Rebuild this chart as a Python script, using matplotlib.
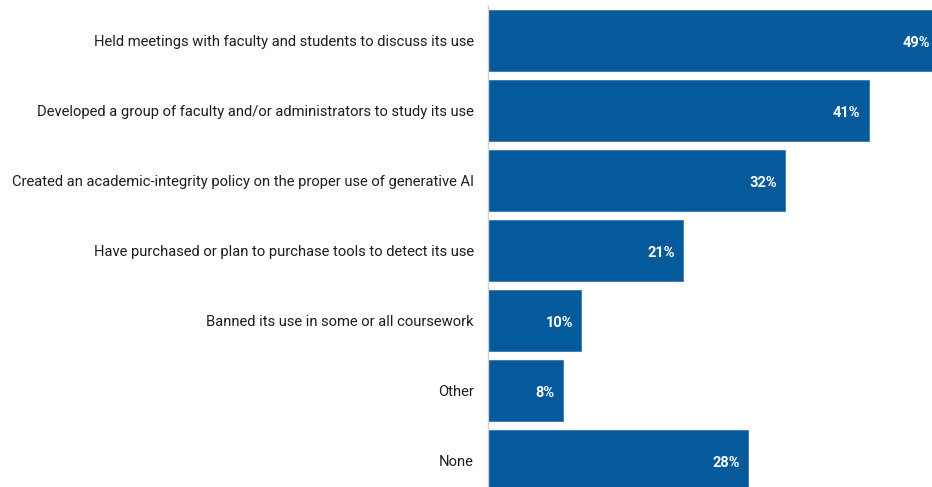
import matplotlib
matplotlib.use("Agg")
import matplotlib.pyplot as plt

categories = [
    "Held meetings with faculty and students to discuss its use",
    "Developed a group of faculty and/or administrators to study its use",
    "Created an academic-integrity policy on the proper use of generative AI",
    "Have purchased or plan to purchase tools to detect its use",
    "Banned its use in some or all coursework",
    "Other",
    "None",
]
values = [49, 41, 32, 21, 10, 8, 28]
value_labels = ["49%", "41%", "32%", "21%", "10%", "8%", "28%"]

plt.rcParams['font.family'] = ['Roboto', 'DejaVu Sans']

W, H = 932, 487
fig = plt.figure(figsize=(W / 100, H / 100), dpi=100)
left_px, top_px = 488.5, 5
ax = fig.add_axes([left_px / W, 0, 1 - left_px / W, (H - top_px) / H])

color = "#045a9b"
ys = list(range(len(categories)))
ax.barh(ys, values, height=0.87, color=color, edgecolor="#3a76ab", linewidth=0.6)

px_per_pct = 9.27
xmax = (W - left_px) / px_per_pct
ax.set_xlim(0, xmax)
ax.set_ylim(6.379, -0.507)

for y, v, lab in zip(ys, values, value_labels):
    if v > xmax:
        x, off = xmax, -1.5
    else:
        x, off = v, -6
    ax.annotate(lab, xy=(x, y), xytext=(off, -2), textcoords="offset points",
                ha="right", va="center", color="white", fontweight="bold",
                fontsize=10.5, annotation_clip=False, clip_on=False)

ax.set_yticks(ys)
ax.set_yticklabels(categories, fontsize=10.6, color="#1e1e1e")
ax.tick_params(axis="y", length=0, pad=10.5)
ax.set_xticks([])
for s in ["top", "right", "bottom"]:
    ax.spines[s].set_visible(False)
ax.spines["left"].set_color("#d0d0d0")
ax.spines["left"].set_linewidth(1)

fig.savefig("out.png", dpi=100)
